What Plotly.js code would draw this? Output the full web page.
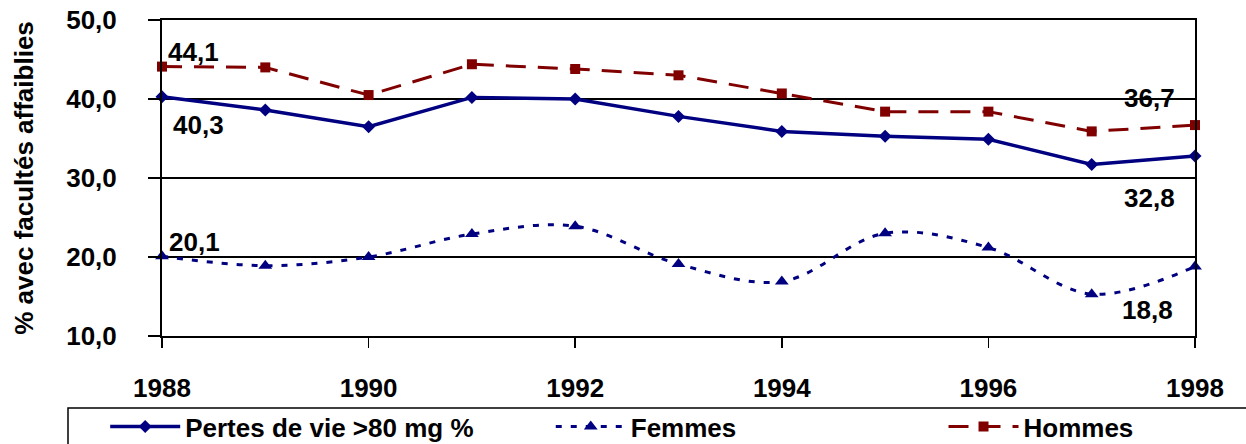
<!DOCTYPE html>
<html>
<head>
<meta charset="utf-8">
<script src="https://cdn.plot.ly/plotly-3.0.1.min.js"></script>
<style>html,body{margin:0;padding:0;background:#fff;}#chart{width:1246px;height:444px;}</style>
</head>
<body>
<div id="chart"></div>
<script>
const years = [1988, 1989, 1990, 1991, 1992, 1993, 1994, 1995, 1996, 1997, 1998];
const pertes = [40.3, 38.6, 36.5, 40.2, 40.0, 37.8, 35.9, 35.3, 34.9, 31.7, 32.8];
const femmes = [20.1, 18.9, 20.0, 22.9, 23.9, 19.1, 16.9, 23.0, 21.2, 15.3, 18.8];
const hommes = [44.1, 44.0, 40.5, 44.4, 43.8, 43.0, 40.7, 38.4, 38.4, 35.9, 36.7];
const seriesNames = ['Pertes de vie >80 mg %', 'Femmes', 'Hommes'];
const yTicks = [10, 20, 30, 40, 50];
const xTicks = [1988, 1990, 1992, 1994, 1996, 1998];
const yTitle = '% avec facultés affaiblies';

const FONT = '"Liberation Sans", Arial, sans-serif';
const NAVY = '#000080';
const MAROON = '#800000';
const NB = '\u00a0';
// trailing non-breaking spaces only widen the legend entries to the reference spacing
const legendPad = [10, 28, 0];

const traces = [
  {x: years, y: pertes, name: seriesNames[0] + NB.repeat(legendPad[0]), mode: 'lines+markers', cliponaxis: false,
   line: {color: NAVY, width: 3.5}, marker: {symbol: 'diamond', size: 10, color: NAVY}},
  {x: years, y: femmes, name: seriesNames[1] + NB.repeat(legendPad[1]), mode: 'lines+markers', cliponaxis: false,
   line: {color: NAVY, width: 3, dash: '6px,9px', shape: 'spline', smoothing: 1},
   marker: {symbol: 'triangle-up', size: 12, color: NAVY}},
  {x: years, y: hommes, name: seriesNames[2] + NB.repeat(legendPad[2]), mode: 'lines+markers', cliponaxis: false,
   line: {color: MAROON, width: 3, dash: '20px,12px'},
   marker: {symbol: 'square', size: 10, color: MAROON}}
];

function fmt(v) { return v.toFixed(1).replace('.', ','); }
const last = years.length - 1;
const annotations = [
  {x: years[0], y: hommes[0], text: fmt(hommes[0]), xanchor: 'left', xshift: 4, yshift: 15},
  {x: years[0], y: pertes[0], text: fmt(pertes[0]), xanchor: 'left', xshift: 9, yshift: -28},
  {x: years[0], y: femmes[0], text: fmt(femmes[0]), xanchor: 'left', xshift: 5, yshift: 14},
  {x: years[last], y: hommes[last], text: fmt(hommes[last]), xanchor: 'right', xshift: -18, yshift: 27},
  {x: years[last], y: pertes[last], text: fmt(pertes[last]), xanchor: 'right', xshift: -18, yshift: -42},
  {x: years[last], y: femmes[last], text: fmt(femmes[last]), xanchor: 'right', xshift: -20, yshift: -44}
].map(a => Object.assign({xref: 'x', yref: 'y', showarrow: false, yanchor: 'middle',
  font: {family: FONT, size: 26, color: '#000', weight: 'bold'}}, a));

const layout = {
  width: 1246, height: 444,
  margin: {l: 162, r: 51, t: 20, b: 108, autoexpand: false},
  paper_bgcolor: '#fff', plot_bgcolor: '#fff',
  separators: ', ',
  font: {family: FONT, size: 26, color: '#000', weight: 'bold'},
  showlegend: true,
  legend: {
    orientation: 'h', x: -0.055, xanchor: 'left', y: -0.212, yanchor: 'top',
    borderwidth: 0, bgcolor: 'rgba(0,0,0,0)',
    font: {family: FONT, size: 26, color: '#000', weight: 'bold'},
    itemwidth: 70, tracegroupgap: 0
  },
  shapes: [
    {type: 'rect', xref: 'paper', yref: 'paper', x0: -0.091, x1: 1.06, y0: -0.228, y1: -0.37,
     line: {color: '#000', width: 1.5}, fillcolor: 'rgba(0,0,0,0)', layer: 'below'}
  ],
  xaxis: {
    range: [1988, 1998], tickmode: 'array', tickvals: xTicks, ticktext: xTicks.map(String),
    showgrid: false, zeroline: false, showline: true, linecolor: '#000', linewidth: 2,
    mirror: true, ticks: 'outside', ticklen: 10, tickwidth: 1.5, tickcolor: '#000',
    ticklabelstandoff: 18,
    tickfont: {family: FONT, size: 26, color: '#000', weight: 'bold'}
  },
  yaxis: {
    range: [10, 50], tickmode: 'array', tickvals: yTicks, tickformat: '.1f',
    showgrid: true, gridcolor: '#000', gridwidth: 1.5, zeroline: false,
    showline: true, linecolor: '#000', linewidth: 2, mirror: true,
    ticks: 'outside', ticklen: 12, tickwidth: 1.5, tickcolor: '#000',
    ticklabelstandoff: 26,
    tickfont: {family: FONT, size: 26, color: '#000', weight: 'bold'},
    title: {text: yTitle, font: {family: FONT, size: 26, color: '#000', weight: 'bold'}, standoff: 25}
  },
  annotations: annotations
};

Plotly.newPlot('chart', traces, layout, {displayModeBar: false, staticPlot: true});
</script>
</body>
</html>
